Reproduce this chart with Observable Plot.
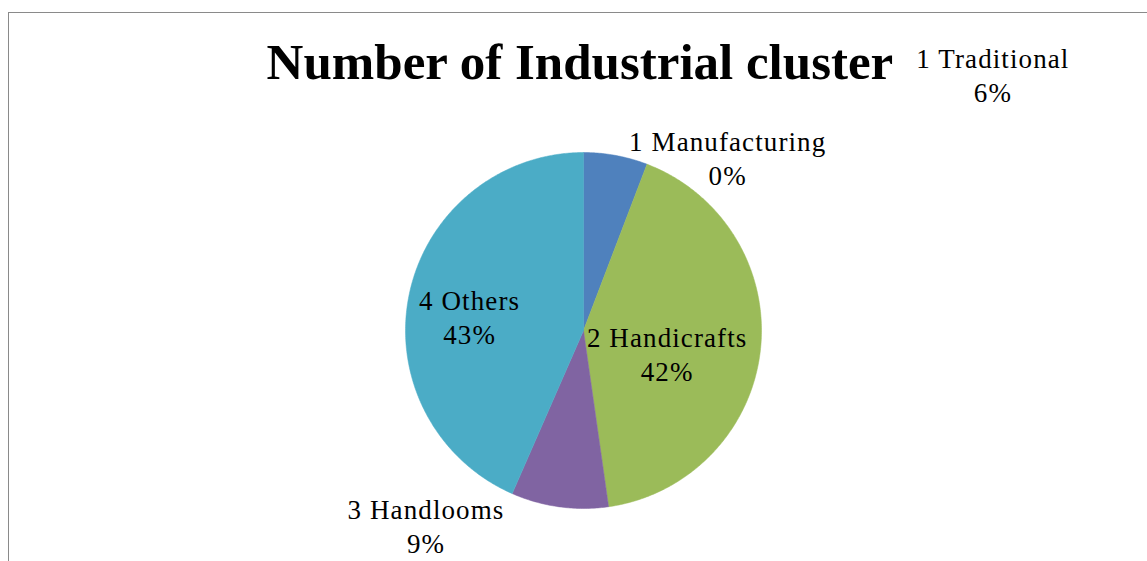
<!DOCTYPE html>
<html>
<head>
<meta charset="utf-8">
<script src="https://cdn.jsdelivr.net/npm/d3@7"></script>
<script src="https://cdn.jsdelivr.net/npm/@observablehq/plot@0.6"></script>
<style>
  html, body { margin: 0; padding: 0; background: #fff; overflow: hidden; }
  #wrap { position: relative; width: 1147px; height: 561px; }
  #frame { position: absolute; left: 8px; top: 12px; width: 1200px; height: 600px;
           border-top: 1.5px solid #8a8a8a; border-left: 1.5px solid #8a8a8a; pointer-events: none; }
  .lbl text { letter-spacing: 1.1px; }
</style>
</head>
<body>
<div id="wrap"><div id="frame"></div></div>
<script>
// ---- data ----
const categories = ["1 Traditional", "1 Manufacturing", "2 Handicrafts", "3 Handlooms", "4 Others"];
const values = [5.8, 0, 41.9, 8.8, 43.4];
const title = "Number of Industrial cluster";

// ---- styles / layout ----
const colors = ["#4F81BD", "#C0504D", "#9BBB59", "#8064A2", "#4BACC6"];
// label block centres, in pie-radius units relative to the pie centre
const labelX = [2.30, 0.81, 0.47, -0.885, -0.64];
const labelY = [1.44, 0.972, -0.126, -1.092, 0.082];

const W = 1147, H = 561, cx = 583, cy = 330, R = 178;
const font = "'Palatino Linotype', 'Book Antiqua', Palatino, 'Liberation Serif', 'Times New Roman', serif";

const total = d3.sum(values);
const arcs = d3.pie().sort(null).value(d => d)(values);

// polygon points of each slice in unit-circle coordinates
const slicePts = [];
arcs.forEach((a, i) => {
  if (a.endAngle - a.startAngle <= 0) return;
  const n = Math.max(2, Math.ceil((a.endAngle - a.startAngle) / 0.01));
  slicePts.push({cat: categories[i], x: 0, y: 0});
  for (let k = 0; k <= n; k++) {
    const t = a.startAngle + (a.endAngle - a.startAngle) * k / n;
    slicePts.push({cat: categories[i], x: Math.sin(t), y: Math.cos(t)});
  }
  slicePts.push({cat: categories[i], x: 0, y: 0});
});

const labels = categories.map((c, i) => ({
  text: c + "\n" + Math.round(values[i] / total * 100) + "%",
  x: labelX[i], y: labelY[i]
}));

const chart = Plot.plot({
  width: W, height: H,
  margin: 0,
  x: {domain: [-cx / R, (W - cx) / R], range: [0, W], axis: null},
  y: {domain: [-(H - cy) / R, cy / R], range: [H, 0], axis: null},
  color: {domain: categories, range: colors},
  style: {fontFamily: font, background: "transparent"},
  marks: [
    Plot.line(slicePts, {x: "x", y: "y", z: "cat", fill: "cat", stroke: "cat", strokeWidth: 0.5, curve: "linear"}),
    Plot.text(labels, {x: "x", y: "y", text: "text", fontSize: 27, lineHeight: 1.26, fill: "#000", textAnchor: "middle", lineAnchor: "middle", className: "lbl"}),
    Plot.text([title], {x: -0.02, y: (cy - 62) / R, text: d => d, fontSize: 51, fontWeight: "bold", fill: "#000", textAnchor: "middle", lineAnchor: "middle"})
  ]
});
document.getElementById("wrap").prepend(chart);
</script>
</body>
</html>
